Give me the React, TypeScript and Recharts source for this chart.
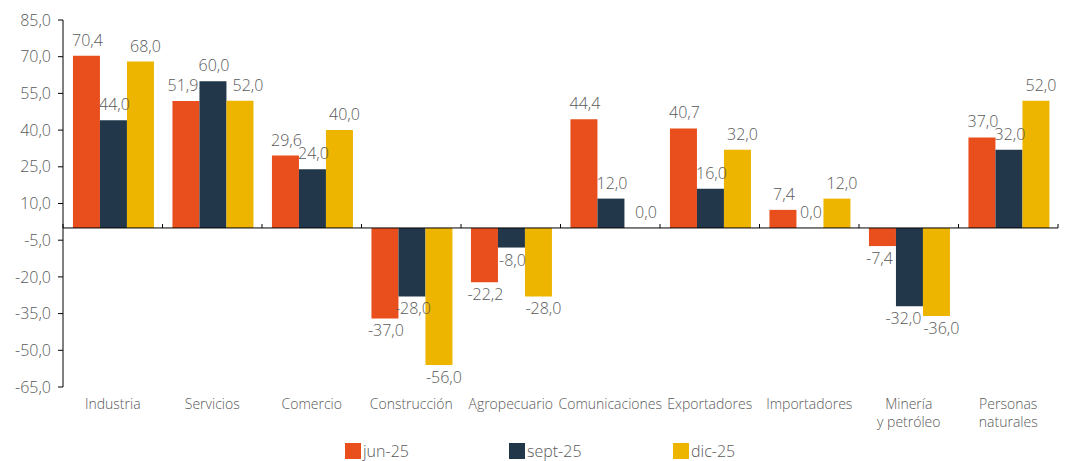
import { Bar, BarChart, ReferenceLine, XAxis, YAxis } from "recharts";

const categories = [
  "Industria",
  "Servicios",
  "Comercio",
  "Construcción",
  "Agropecuario",
  "Comunicaciones",
  "Exportadores",
  "Importadores",
  "Minería\ny petróleo",
  "Personas\nnaturales",
];
const jun25 = [70.4, 51.9, 29.6, -37.0, -22.2, 44.4, 40.7, 7.4, -7.4, 37.0];
const sept25 = [44.0, 60.0, 24.0, -28.0, -8.0, 12.0, 16.0, 0.0, -32.0, 32.0];
const dic25 = [68.0, 52.0, 40.0, -56.0, -28.0, 0.0, 32.0, 12.0, -36.0, 52.0];
const yTicks = [-65, -50, -35, -20, -5, 10, 25, 40, 55, 70, 85];

const COLORS = { jun: "#E94F1D", sept: "#22384A", dic: "#EDB500" };
const TEXT = "#595959";
const FONT = "'Open Sans', sans-serif";
const WEIGHT = 300;

const fmt = (v: number) => v.toFixed(1).replace(".", ",");

const data = categories.map((c, i) => ({
  category: c,
  "jun-25": jun25[i],
  "sept-25": sept25[i],
  "dic-25": dic25[i],
}));

const sameSide = (a: number, b: number) => (a >= 0 && b >= 0) || (a < 0 && b < 0);

// nudge labels sideways so they don't run into a taller neighbour bar or label
function labelShift(series: string, i: number) {
  const j = jun25[i];
  const s = sept25[i];
  const d = dic25[i];
  if (series === "jun") return sameSide(j, s) && Math.abs(s) > Math.abs(j) ? -3 : 1;
  if (series === "sept") return sameSide(s, d) && Math.abs(s - d) < 7 && s < 0 ? -6 : 1;
  return sameSide(d, s) && Math.abs(s) > Math.abs(d) ? 8 : 5;
}

function CategoryTick({ x, y, payload }: any) {
  const lines = String(payload.value).split("\n");
  return (
    <text x={x} y={y} textAnchor="middle" fill={TEXT} fontSize={14} fontWeight={WEIGHT} fontFamily={FONT}>
      {lines.map((l, i) => (
        <tspan key={i} x={x} dy={i === 0 ? 14 : 18}>
          {l}
        </tspan>
      ))}
    </text>
  );
}

// small category-boundary ticks sitting on the zero line
function ZeroTicks({ viewBox }: any) {
  if (!viewBox) return null;
  const { x, y, width } = viewBox;
  const n = categories.length;
  return (
    <g>
      {Array.from({ length: n + 1 }, (_, k) => (
        <line key={k} x1={x + (k * width) / n} x2={x + (k * width) / n} y1={y} y2={y - 4} stroke="#000" />
      ))}
    </g>
  );
}

function makeLabel(series: string) {
  return function ValueLabel({ x, y, width, height, value, index }: any) {
    const v = Number(value);
    const neg = v < 0;
    const cx = Number(x) + Number(width) / 2 + labelShift(series, index);
    const top = Math.min(Number(y), Number(y) + Number(height));
    const bottom = Math.max(Number(y), Number(y) + Number(height));
    return (
      <text
        x={cx}
        y={neg ? bottom + 18 : top - 10}
        textAnchor="middle"
        fill={TEXT}
        fontSize={16}
        fontWeight={WEIGHT}
        fontFamily={FONT}
      >
        {fmt(v)}
      </text>
    );
  };
}

const JunLabel = makeLabel("jun");
const SeptLabel = makeLabel("sept");
const DicLabel = makeLabel("dic");

const legendItems = [
  { name: "jun-25", color: COLORS.jun },
  { name: "sept-25", color: COLORS.sept },
  { name: "dic-25", color: COLORS.dic },
];

export default function App() {
  return (
    <div style={{ margin: "-8px -8px 0 -8px", width: 1072, height: 461, background: "#fff", position: "relative" }}>
      <BarChart
        width={1072}
        height={461}
        data={data}
        margin={{ top: 20, right: 14, left: 0, bottom: 0 }}
        barCategoryGap="10%"
        barGap={0}
      >
        <YAxis
          domain={[-65, 85]}
          ticks={yTicks}
          interval={0}
          width={63}
          tickFormatter={fmt}
          tick={{ fill: TEXT, fontSize: 16, fontWeight: WEIGHT, fontFamily: FONT }}
          axisLine={{ stroke: "#000" }}
          tickLine={{ stroke: "#000" }}
          tickSize={5}
          tickMargin={7}
        />
        <XAxis
          dataKey="category"
          interval={0}
          axisLine={false}
          tickLine={false}
          tick={<CategoryTick />}
          height={74}
        />
        <ReferenceLine y={0} stroke="#000" strokeWidth={1} label={<ZeroTicks />} />
        <Bar dataKey="jun-25" fill={COLORS.jun} minPointSize={0.01} isAnimationActive={false} label={<JunLabel />} />
        <Bar dataKey="sept-25" fill={COLORS.sept} minPointSize={0.01} isAnimationActive={false} label={<SeptLabel />} />
        <Bar dataKey="dic-25" fill={COLORS.dic} minPointSize={0.01} isAnimationActive={false} label={<DicLabel />} />
      </BarChart>
      <div
        style={{
          position: "absolute",
          left: 345,
          top: 440,
          display: "flex",
          fontFamily: FONT,
          fontWeight: WEIGHT,
        }}
      >
        {legendItems.map((it) => (
          <div key={it.name} style={{ display: "flex", alignItems: "center", width: 164 }}>
            <span style={{ width: 16, height: 16, background: it.color, display: "inline-block" }} />
            <span style={{ color: TEXT, fontSize: 16, marginLeft: 2 }}>{it.name}</span>
          </div>
        ))}
      </div>
    </div>
  );
}
